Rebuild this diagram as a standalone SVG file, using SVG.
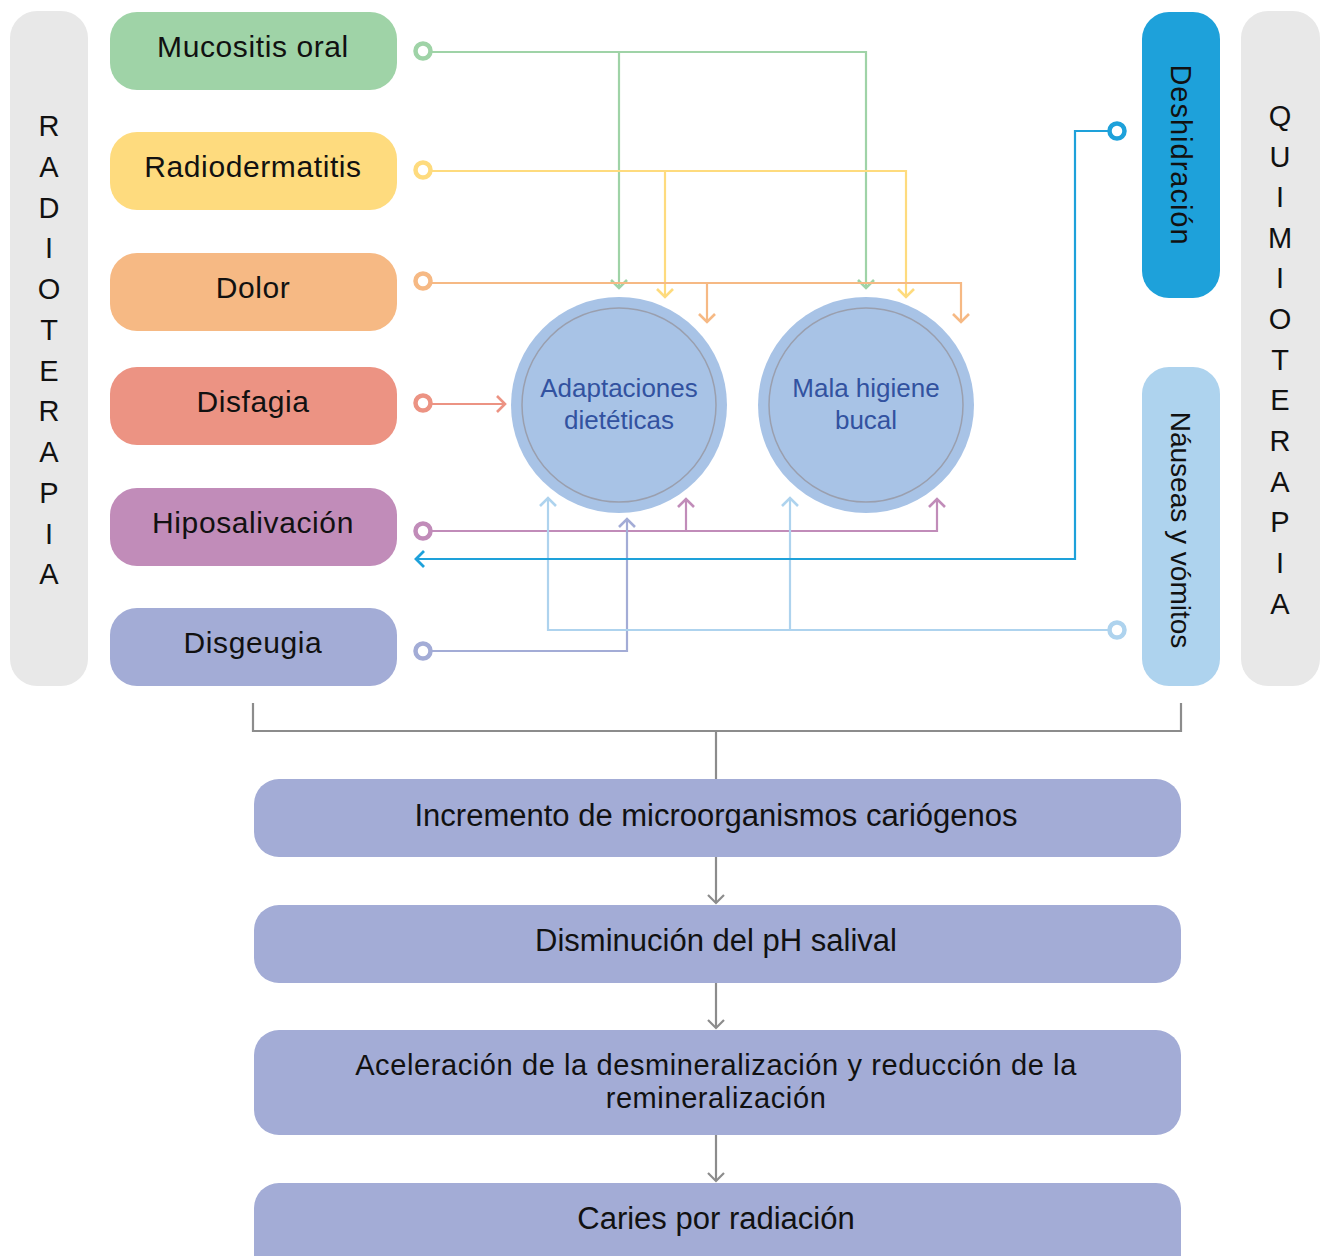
<svg xmlns="http://www.w3.org/2000/svg" width="1321" height="1256" viewBox="0 0 1321 1256">
<style>
.lbl{font-family:"Liberation Sans","DejaVu Sans",sans-serif;fill:#111;text-anchor:middle}
.side{font-family:"Liberation Sans","DejaVu Sans",sans-serif;fill:#111;text-anchor:middle;font-size:29px}
.circ{font-family:"Liberation Sans","DejaVu Sans",sans-serif;fill:#3252a0;text-anchor:middle;font-size:26px}
.ln{fill:none;stroke-width:2.2}
.ring{fill:#fff;stroke-width:4.5}
</style>
<defs>
<marker id="aG" viewBox="0 0 20 20" refX="18" refY="10" markerWidth="20" markerHeight="20" markerUnits="userSpaceOnUse" orient="auto"><path d="M10,2 L18,10 L10,18" fill="none" stroke="#9fd3a7" stroke-width="2.6"/></marker>
<marker id="aY" viewBox="0 0 20 20" refX="18" refY="10" markerWidth="20" markerHeight="20" markerUnits="userSpaceOnUse" orient="auto"><path d="M10,2 L18,10 L10,18" fill="none" stroke="#fedb7e" stroke-width="2.6"/></marker>
<marker id="aO" viewBox="0 0 20 20" refX="18" refY="10" markerWidth="20" markerHeight="20" markerUnits="userSpaceOnUse" orient="auto"><path d="M10,2 L18,10 L10,18" fill="none" stroke="#f6b984" stroke-width="2.6"/></marker>
<marker id="aS" viewBox="0 0 20 20" refX="18" refY="10" markerWidth="20" markerHeight="20" markerUnits="userSpaceOnUse" orient="auto"><path d="M10,2 L18,10 L10,18" fill="none" stroke="#ec9383" stroke-width="2.6"/></marker>
<marker id="aP" viewBox="0 0 20 20" refX="18" refY="10" markerWidth="20" markerHeight="20" markerUnits="userSpaceOnUse" orient="auto"><path d="M10,2 L18,10 L10,18" fill="none" stroke="#c18cb9" stroke-width="2.6"/></marker>
<marker id="aL" viewBox="0 0 20 20" refX="18" refY="10" markerWidth="20" markerHeight="20" markerUnits="userSpaceOnUse" orient="auto"><path d="M10,2 L18,10 L10,18" fill="none" stroke="#a3acd6" stroke-width="2.6"/></marker>
<marker id="aN" viewBox="0 0 20 20" refX="18" refY="10" markerWidth="20" markerHeight="20" markerUnits="userSpaceOnUse" orient="auto"><path d="M10,2 L18,10 L10,18" fill="none" stroke="#aed3ee" stroke-width="2.6"/></marker>
<marker id="aB" viewBox="0 0 20 20" refX="18" refY="10" markerWidth="20" markerHeight="20" markerUnits="userSpaceOnUse" orient="auto"><path d="M10,2 L18,10 L10,18" fill="none" stroke="#1ea1da" stroke-width="2.8"/></marker>
<marker id="aK" viewBox="0 0 20 20" refX="18" refY="10" markerWidth="20" markerHeight="20" markerUnits="userSpaceOnUse" orient="auto"><path d="M10,2 L18,10 L10,18" fill="none" stroke="#8c8c8c" stroke-width="2.2"/></marker>
</defs>

<g id="radioterapia">
<rect x="10" y="11" width="78" height="675" rx="27" fill="#e8e8e8"/>
<text class="side" x="49"><tspan x="49" y="136">R</tspan><tspan x="49" y="177">A</tspan><tspan x="49" y="218">D</tspan><tspan x="49" y="258">I</tspan><tspan x="49" y="299">O</tspan><tspan x="49" y="340">T</tspan><tspan x="49" y="381">E</tspan><tspan x="49" y="421">R</tspan><tspan x="49" y="462">A</tspan><tspan x="49" y="503">P</tspan><tspan x="49" y="544">I</tspan><tspan x="49" y="584">A</tspan></text>
</g>
<g id="quimioterapia">
<rect x="1241" y="11" width="79" height="675" rx="27" fill="#e8e8e8"/>
<text class="side" x="1280"><tspan x="1280" y="126">Q</tspan><tspan x="1280" y="167">U</tspan><tspan x="1280" y="207">I</tspan><tspan x="1280" y="248">M</tspan><tspan x="1280" y="288">I</tspan><tspan x="1280" y="329">O</tspan><tspan x="1280" y="370">T</tspan><tspan x="1280" y="410">E</tspan><tspan x="1280" y="451">R</tspan><tspan x="1280" y="492">A</tspan><tspan x="1280" y="532">P</tspan><tspan x="1280" y="573">I</tspan><tspan x="1280" y="614">A</tspan></text>
</g>

<g id="mucositis"><rect x="110" y="12" width="287" height="78" rx="27" fill="#9fd3a7"/><text class="lbl" x="253" y="57" font-size="30" letter-spacing="0.6">Mucositis oral</text></g>
<g id="radiodermatitis"><rect x="110" y="132" width="287" height="78" rx="27" fill="#fedb7e"/><text class="lbl" x="253" y="177" font-size="30" letter-spacing="0.6">Radiodermatitis</text></g>
<g id="dolor"><rect x="110" y="253" width="287" height="78" rx="27" fill="#f6b984"/><text class="lbl" x="253" y="298" font-size="30" letter-spacing="0.6">Dolor</text></g>
<g id="disfagia"><rect x="110" y="367" width="287" height="78" rx="27" fill="#ec9383"/><text class="lbl" x="253" y="412" font-size="30" letter-spacing="0.6">Disfagia</text></g>
<g id="hiposalivacion"><rect x="110" y="488" width="287" height="78" rx="27" fill="#c18cb9"/><text class="lbl" x="253" y="533" font-size="30" letter-spacing="0.6">Hiposalivación</text></g>
<g id="disgeugia"><rect x="110" y="608" width="287" height="78" rx="27" fill="#a3acd6"/><text class="lbl" x="253" y="653" font-size="30" letter-spacing="0.6">Disgeugia</text></g>

<g id="deshidratacion"><rect x="1142" y="12" width="78" height="286" rx="27" fill="#1ea1da"/><text class="lbl" transform="translate(1181,155) rotate(90)" x="0" y="10" font-size="29" letter-spacing="1">Deshidración</text></g>
<g id="nauseas"><rect x="1142" y="367" width="78" height="319" rx="27" fill="#aed3ee"/><text class="lbl" transform="translate(1181,530) rotate(90)" x="0" y="10" font-size="28">Náuseas y vómitos</text></g>

<g id="adaptaciones"><circle cx="619" cy="405" r="108" fill="#a8c3e6"/><circle cx="619" cy="405" r="97" fill="none" stroke="#9a9fae" stroke-width="1.5"/><text class="circ" x="619" y="397">Adaptaciones</text><text class="circ" x="619" y="429">dietéticas</text></g>
<g id="malahigiene"><circle cx="866" cy="405" r="108" fill="#a8c3e6"/><circle cx="866" cy="405" r="97" fill="none" stroke="#9a9fae" stroke-width="1.5"/><text class="circ" x="866" y="397">Mala higiene</text><text class="circ" x="866" y="429">bucal</text></g>

<g id="incremento"><rect x="254" y="779" width="927" height="78" rx="25" fill="#a3acd6"/><text class="lbl" x="716" y="826" font-size="31">Incremento de microorganismos cariógenos</text></g>
<g id="disminucion"><rect x="254" y="905" width="927" height="78" rx="25" fill="#a3acd6"/><text class="lbl" x="716" y="951" font-size="31">Disminución del pH salival</text></g>
<g id="aceleracion"><rect x="254" y="1030" width="927" height="105" rx="25" fill="#a3acd6"/><text class="lbl" x="716" y="1075" font-size="29" letter-spacing="0.6">Aceleración de la desmineralización y reducción de la</text><text class="lbl" x="716" y="1108" font-size="29" letter-spacing="0.6">remineralización</text></g>
<g id="caries"><rect x="254" y="1183" width="927" height="100" rx="25" fill="#a3acd6"/><text class="lbl" x="716" y="1229" font-size="31">Caries por radiación</text></g>

<g id="connectors">
<path class="ln" stroke="#9fd3a7" d="M431,52 H866 V288" marker-end="url(#aG)"/>
<path class="ln" stroke="#9fd3a7" d="M619,52 V288" marker-end="url(#aG)"/>
<path class="ln" stroke="#fedb7e" d="M431,171 H906 V297" marker-end="url(#aY)"/>
<path class="ln" stroke="#fedb7e" d="M665,171 V297" marker-end="url(#aY)"/>
<path class="ln" stroke="#f6b984" d="M431,283 H961 V322" marker-end="url(#aO)"/>
<path class="ln" stroke="#f6b984" d="M707,283 V322" marker-end="url(#aO)"/>
<path class="ln" stroke="#ec9383" d="M431,404 H505" marker-end="url(#aS)"/>
<path class="ln" stroke="#c18cb9" d="M431,531 H937 V499" marker-end="url(#aP)"/>
<path class="ln" stroke="#c18cb9" d="M686,531 V499" marker-end="url(#aP)"/>
<path class="ln" stroke="#a3acd6" d="M431,651 H627 V519" marker-end="url(#aL)"/>
<path class="ln" stroke="#aed3ee" d="M1109,630 H548 V498" marker-end="url(#aN)"/>
<path class="ln" stroke="#aed3ee" d="M790,630 V498" marker-end="url(#aN)"/>
<path class="ln" stroke="#1ea1da" d="M1109,131 H1075 V559 H416" marker-end="url(#aB)"/>
<circle class="ring" cx="423" cy="51" r="7.5" stroke="#9fd3a7"/>
<circle class="ring" cx="423" cy="170" r="7.5" stroke="#fedb7e"/>
<circle class="ring" cx="423" cy="281" r="7.5" stroke="#f6b984"/>
<circle class="ring" cx="423" cy="403" r="7.5" stroke="#ec9383"/>
<circle class="ring" cx="423" cy="531" r="7.5" stroke="#c18cb9"/>
<circle class="ring" cx="423" cy="651" r="7.5" stroke="#a3acd6"/>
<circle class="ring" cx="1117" cy="131" r="7.5" stroke="#1ea1da"/>
<circle class="ring" cx="1117" cy="630" r="7.5" stroke="#aed3ee"/>
<path class="ln" stroke="#8c8c8c" d="M253,703 V731 H1181 V703"/>
<path class="ln" stroke="#8c8c8c" d="M716,731 V779"/>
<path class="ln" stroke="#8c8c8c" stroke-width="1.8" d="M716,857 V903" marker-end="url(#aK)"/>
<path class="ln" stroke="#8c8c8c" stroke-width="1.8" d="M716,983 V1028" marker-end="url(#aK)"/>
<path class="ln" stroke="#8c8c8c" stroke-width="1.8" d="M716,1135 V1181" marker-end="url(#aK)"/>
</g>
</svg>
